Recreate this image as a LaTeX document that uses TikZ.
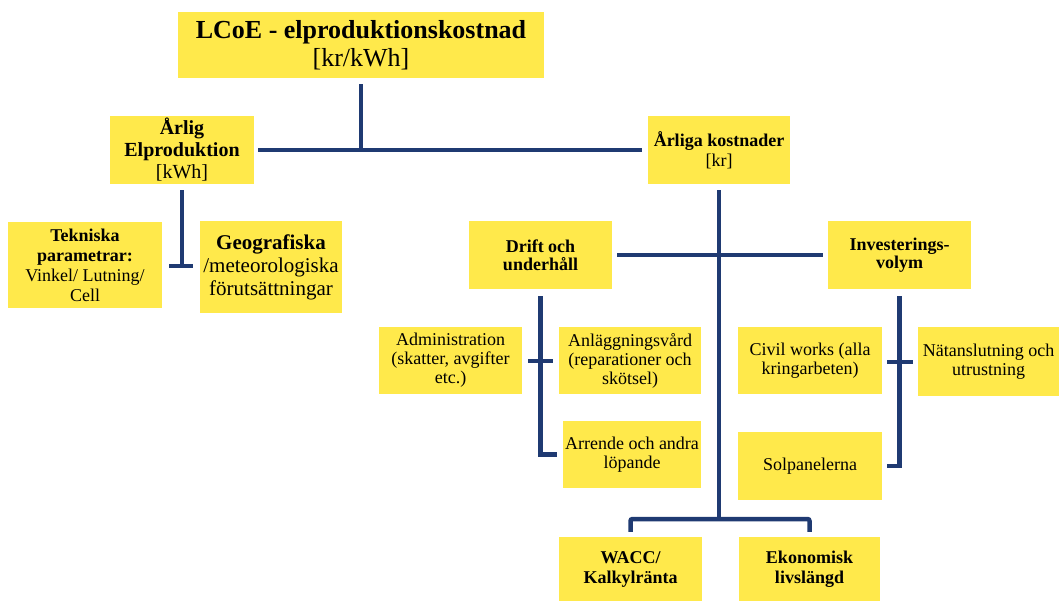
\documentclass[tikz,border=0pt]{standalone}
\usepackage{fontspec}
\setmainfont{Liberation Serif}
\usetikzlibrary{calc}
\definecolor{boxyellow}{HTML}{FFE94B}
\definecolor{navy}{HTML}{1F3A72}
\tikzset{
  box/.style={fill=boxyellow, inner sep=0pt, align=center, text=black},
  conn/.style={draw=navy, line width=4.5pt},
  fs/.style={font=\fontsize{18}{19}\selectfont},
}
\begin{document}
\begin{tikzpicture}[x=1pt,y=-1pt]
\useasboundingbox (0,0) rectangle (1059,601);
% top level
\node[box, minimum width=366pt, minimum height=66pt, font=\fontsize{26}{28}\selectfont] (T) at (361,45)
  {\textbf{LCoE - elproduktionskostnad}\\{[kr/kWh]}};
\node[box, minimum width=144pt, minimum height=68pt, font=\fontsize{20}{22}\selectfont] (AE) at (182,150)
  {\textbf{Årlig}\\\textbf{Elproduktion}\\{[kWh]}};
\node[box, minimum width=142pt, minimum height=68pt, font=\fontsize{18}{20}\selectfont] (AK) at (719,150)
  {\textbf{Årliga kostnader}\\{[kr]}};
% level under production
\node[box, minimum width=154pt, minimum height=86pt, font=\fontsize{18}{20}\selectfont] (Tek) at (85,265)
  {\textbf{Tekniska}\\\textbf{parametrar:}\\Vinkel/ Lutning/\\Cell};
\node[box, minimum width=142pt, minimum height=92pt, font=\fontsize{21}{23}\selectfont] (Geo) at (271,267)
  {\textbf{Geografiska}\\/meteorologiska\\förutsättningar};
% level under costs
\node[box, minimum width=143pt, minimum height=68pt, font=\fontsize{18}{18}\selectfont\bfseries] (D) at (540.5,255)
  {Drift och\\underhåll};
\node[box, minimum width=143pt, minimum height=68pt, font=\fontsize{18}{18}\selectfont\bfseries] (I) at (899.5,255)
  {Investerings-\\volym};
\node[box, fs, minimum width=143pt, minimum height=67pt] (Adm) at (450.5,360.5)
  {Administration\\(skatter, avgifter\\etc.)};
\node[box, fs, minimum width=142pt, minimum height=67pt] (Anl) at (630,360.5)
  {Anläggningsvård\\(reparationer och\\skötsel)};
\node[box, fs, minimum width=138pt, minimum height=67pt] (Arr) at (632,454.5)
  {Arrende och andra\\löpande};
\node[box, fs, minimum width=144pt, minimum height=67pt] (Civ) at (810,360.5)
  {Civil works (alla\\kringarbeten)};
\node[box, fs, minimum width=141pt, minimum height=69pt] (Nat) at (988.5,361.5)
  {Nätanslutning och\\utrustning};
\node[box, fs, minimum width=144pt, minimum height=68pt] (Sol) at (810,466)
  {Solpanelerna};
\node[box, minimum width=143pt, minimum height=64pt, font=\fontsize{18}{20}\selectfont\bfseries] (W) at (630.5,569)
  {WACC/\\Kalkylränta};
\node[box, minimum width=141pt, minimum height=64pt, font=\fontsize{18}{20}\selectfont\bfseries] (E) at (809.5,569)
  {Ekonomisk\\livslängd};
% junctions
\coordinate (jA) at (182,266);
\coordinate (jD) at (541,361);
\coordinate (jI) at (900,362);
\coordinate (jB) at (719,519);
% connectors
\draw[conn] ($(T.south)+(0,6)$) -- (T.south |- AE.east);
\draw[conn] ($(AE.east)+(4,0)$) -- ($(AK.west)+(-6,0)$);
\draw[conn] ($(AE.south)+(0,6)$) -- (jA);
\draw[conn] ($(Tek.east |- jA)+(7,0)$) -- ($(Geo.west |- jA)+(-7,0)$);
\draw[conn] ($(AK.south)+(0,6)$) -- (AK.south |- jB);
\draw[conn] ($(D.east)+(5,0)$) -- ($(I.west)+(-5,0)$);
\draw[conn] ($(D.south)+(0,7)$ -| jD) |- ($(Arr.west)+(-6,0)$);
\draw[conn] ($(Adm.east |- jD)+(6,0)$) -- ($(Anl.west |- jD)+(-6,0)$);
\draw[conn] ($(I.south)+(0,7)$ -| jI) |- ($(Sol.east)+(5,0)$);
\draw[conn] ($(Civ.east |- jI)+(5,0)$) -- ($(Nat.west |- jI)+(-5,0)$);
\draw[conn, rounded corners=2pt] ($(W.north)+(0,-5)$) |- (jB) -| ($(E.north)+(0,-5)$);
\end{tikzpicture}
\end{document}
